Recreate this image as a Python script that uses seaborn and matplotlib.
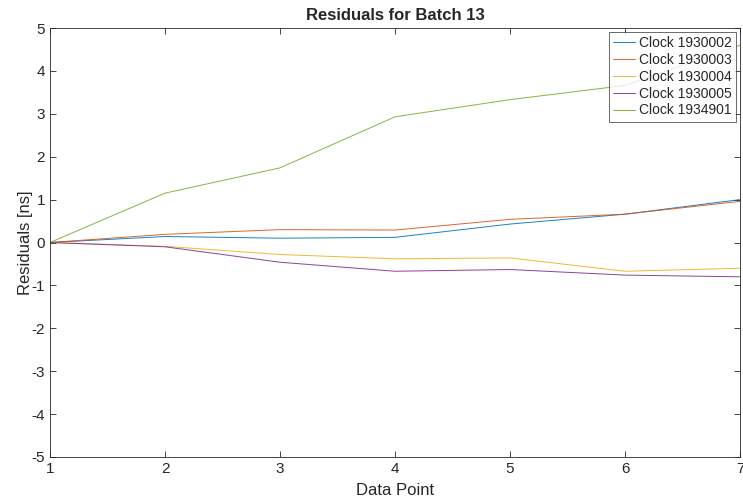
import numpy as np
import pandas as pd
import matplotlib
matplotlib.use("Agg")
import matplotlib.pyplot as plt
import seaborn as sns

points = [1, 2, 3, 4, 5, 6, 7]
clocks = ["Clock 1930002", "Clock 1930003", "Clock 1930004", "Clock 1930005", "Clock 1934901"]
clk_1930002 = [0, 0.14, 0.10, 0.12, 0.43, 0.66, 1.00]
clk_1930003 = [0, 0.19, 0.30, 0.29, 0.54, 0.66, 0.96]
clk_1930004 = [0, -0.09, -0.28, -0.38, -0.36, -0.67, -0.60]
clk_1930005 = [0, -0.10, -0.46, -0.67, -0.63, -0.76, -0.80]
clk_1934901 = [0, 1.15, 1.74, 2.93, 3.33, 3.66, 4.60]

colors = ["#0072BD", "#D95319", "#EDB120", "#7E2F8E", "#77AC30"]

series = [clk_1930002, clk_1930003, clk_1930004, clk_1930005, clk_1934901]
rows = []
for name, vals in zip(clocks, series):
    for p, v in zip(points, vals):
        rows.append({"Data Point": p, "Residual": v, "Clock": name})
df = pd.DataFrame(rows)

sns.set_theme(style="white")
plt.rcParams["font.family"] = ["Liberation Sans", "DejaVu Sans"]
plt.rcParams["axes.unicode_minus"] = False

fig = plt.figure(figsize=(7.43, 5.04), dpi=100)
ax = fig.add_axes([50/743, 1 - 457/504, 690/743, 429/504])

sns.lineplot(data=df, x="Data Point", y="Residual", hue="Clock",
             palette=colors, linewidth=0.7, alpha=0.9, ax=ax)

ax.set_xlim(1, 7)
ax.set_ylim(-5, 5)
ax.set_xticks(range(1, 8))
ax.set_yticks(range(-5, 6))
ax.set_xlabel("Data Point", fontsize=12, color="#262626", labelpad=5)
ax.set_ylabel("Residuals [ns]", fontsize=12, color="#262626", labelpad=-1)
ax.set_title("Residuals for Batch 13", fontsize=12, fontweight="bold", pad=6)
ax.tick_params(direction="in", length=4, width=0.6, colors="#262626",
               labelsize=11, top=True, right=True, bottom=True, left=True)
for s in ax.spines.values():
    s.set_color("#262626")
    s.set_linewidth(0.6)

leg = ax.legend(loc="upper right", fontsize=10, frameon=True, fancybox=False,
                borderaxespad=0.3, handlelength=1.6, handletextpad=0.25,
                labelspacing=0.2, borderpad=0.3)
leg.get_frame().set_edgecolor("#262626")
leg.get_frame().set_linewidth(0.6)
leg.set_title(None)

fig.savefig("out.png", dpi=100)
